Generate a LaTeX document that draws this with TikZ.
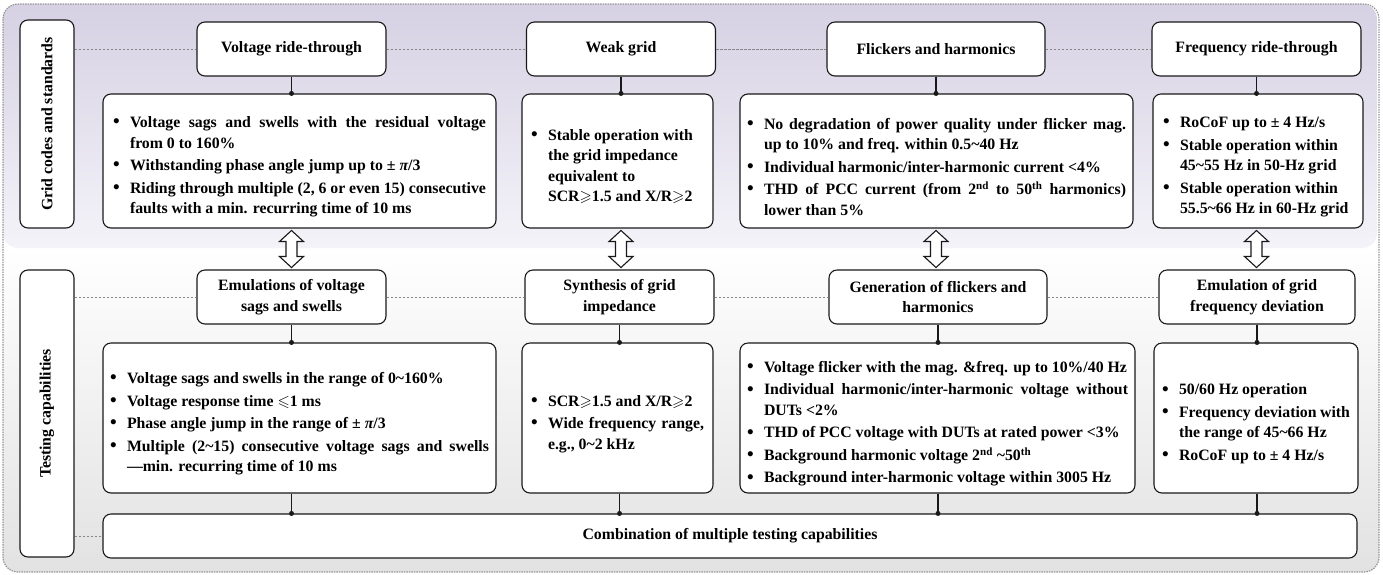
\documentclass[tikz,border=0pt]{standalone}
\usepackage{fontspec}
\setmainfont{Liberation Serif}
\usepackage{amsmath,amssymb}
\usetikzlibrary{calc}
\definecolor{lavtop}{RGB}{214,209,227}
\definecolor{lavbot}{RGB}{244,243,249}
\definecolor{grbot}{RGB}{226,226,226}
\definecolor{bord}{RGB}{25,25,25}
\definecolor{dashg}{RGB}{135,135,135}
\definecolor{outg}{RGB}{150,150,150}
\newcommand{\mybul}{\raisebox{-0.3pt}{\scalebox{1.2}{\textbullet}}}
\newcommand{\itm}[1]{\par\noindent\hangindent=17pt\hangafter=1\makebox[17pt][l]{\mybul}#1\par}
\newcommand{\mytld}{\textasciitilde}
\newcommand{\mypi}{{\itshape π}}
\newcommand{\mygeq}{\ensuremath{\boldsymbol{\geqslant}}}
\newcommand{\myleq}{\ensuremath{\boldsymbol{\leqslant}}}
\begin{document}
\begin{tikzpicture}[x=1pt,y=-1pt,
  every node/.style={font=\fontsize{15.8}{20.5}\selectfont\bfseries},
  box/.style={draw=bord, line width=1.1pt, rounded corners=8pt, fill=white, inner sep=0pt},
  hdr/.style={box, align=center, minimum height=54},
  det/.style={box, align=justify, execute at begin node={\setlength{\parskip}{2pt}}},
  lab/.style={box, rotate=90, minimum height=54},
  guide/.style={draw=dashg, line width=0.8pt, dash pattern=on 2.5pt off 1.5pt},
  link/.style={draw=bord, line width=1.1pt},
  harrow/.style={draw=bord, line width=1.1pt, fill=white, line join=miter}]
\useasboundingbox (0,0) rectangle (1383,574);
% background
\begin{scope}
\clip[rounded corners=15] (3,4) rectangle (1379,572);
\fill[white] (3,4) rectangle (1379,572);
\shade[top color=white, bottom color=grbot] (3,248) rectangle (1379,572);
\shade[top color=lavtop, bottom color=lavbot, rounded corners=15] (3,4) rectangle (1377,248);
\end{scope}
\draw[outg, line width=1.2pt, dash pattern=on 1.5pt off 1pt, rounded corners=15] (3,4) rectangle (1379,572);

% side labels
\node[lab, minimum width=208] (L1) at (47,124) {Grid codes and standards};
\node[lab, minimum width=287] (L2) at (47,413.5) {Testing capabilities};

% top headers
\node[hdr, minimum width=189] (h1) at (291.5,49) {Voltage ride-through};
\node[hdr, minimum width=189] (h2) at (621,49) {Weak grid};
\node[hdr, minimum width=218] (h3) at (936,49) {Flickers and harmonics};
\node[hdr, minimum width=209] (h4) at (1256.5,49) {Frequency ride-through};

% top details
\node[det, minimum width=393, minimum height=134, text width=373] (d1) at (299.5,161) {%
\itm{Voltage sags and swells with the residual voltage\linebreak from 0 to 160\%}
\itm{Withstanding phase angle jump up to ± \mypi/3}
\itm{Riding through multiple (2, 6 or even 15) consecutive\linebreak faults with a min. recurring time of 10 ms}};
\node[det, minimum width=191, minimum height=134, text width=173] (d2) at (617.5,161) {%
\itm{Stable operation with\newline the grid impedance\newline equivalent to\newline SCR\mygeq1.5 and X/R\mygeq2}};
\node[det, minimum width=393, minimum height=134, text width=379] (d3) at (936.5,161) {%
\itm{No degradation of power quality under flicker mag.\linebreak up to 10\% and freq. within 0.5\mytld40 Hz}
\itm{Individual harmonic/inter-harmonic current <4\%}
\itm{THD of PCC current (from 2\textsuperscript{nd} to 50\textsuperscript{th} harmonics)\linebreak lower than 5\%}};
\node[det, minimum width=210, minimum height=134, text width=190] (d4) at (1258,161) {%
\itm{RoCoF up to ± 4 Hz/s}
\itm{Stable operation within\newline 45\mytld55 Hz in 50-Hz grid}
\itm{Stable operation within\newline 55.5\mytld66 Hz in 60-Hz grid}};

% lower headers
\node[hdr, minimum width=189] (g1) at (291.5,297) {Emulations of voltage\\sags and swells};
\node[hdr, minimum width=189] (g2) at (619.5,297) {Synthesis of grid\\impedance};
\node[hdr, minimum width=218] (g3) at (938,297) {Generation of flickers and\\harmonics};
\node[hdr, minimum width=196] (g4) at (1257,297) {Emulation of grid\\frequency deviation};

% lower details
\node[det, minimum width=393, minimum height=150, text width=379] (e1) at (299.5,418) {%
\itm{Voltage sags and swells in the range of 0\mytld160\%}
\itm{Voltage response time \myleq1 ms}
\itm{Phase angle jump in the range of ± \mypi/3}
\itm{Multiple (2\mytld15) consecutive voltage sags and swells\linebreak —min. recurring time of 10 ms}};
\node[det, minimum width=191, minimum height=150, text width=173] (e2) at (617.5,418) {%
\itm{SCR\mygeq1.5 and X/R\mygeq2}
\itm{Wide frequency range,\linebreak e.g., 0\mytld2 kHz}};
\node[det, minimum width=395, minimum height=150, text width=381] (e3) at (937.5,418) {%
\itm{Voltage flicker with the mag. \&freq. up to 10\%/40 Hz}
\itm{Individual harmonic/inter-harmonic voltage without\linebreak DUTs <2\%}
\itm{THD of PCC voltage with DUTs at rated power <3\%}
\itm{Background harmonic voltage 2\textsuperscript{nd} \mytld50\textsuperscript{th}}
\itm{Background inter-harmonic voltage within 3005 Hz}};
\node[det, minimum width=204, minimum height=150, text width=188] (e4) at (1256,418) {%
\itm{50/60 Hz operation}
\itm{Frequency deviation with\newline the range of 45\mytld66 Hz}
\itm{RoCoF up to ± 4 Hz/s}};

% combination
\node[box, minimum width=1254, minimum height=44] (cb) at (730,536) {Combination of multiple testing capabilities};

% dashed guides
\draw[guide] (L1.south |- h1.west) -- (h1.west);
\draw[guide] (h1.east) -- (h2.west);
\draw[guide] (h2.east) -- (h3.west);
\draw[guide] (h3.east) -- (h4.west);
\draw[guide] (L2.south |- g1.west) -- (g1.west);
\draw[guide] (g1.east) -- (g2.west);
\draw[guide] (g2.east) -- (g3.west);
\draw[guide] (g3.east) -- (g4.west);
\draw[guide] (L2.south |- cb.west) -- (cb.west);

% connectors with dots
\foreach \a/\b in {h1/d1,h2/d2,h3/d3,h4/d4,g1/e1,g2/e2,g3/e3,g4/e4} {
  \draw[link] (\a.south) -- (\a.south |- \b.north);
  \fill[bord] (\a.south |- \b.north) circle (2.5);
}
\foreach \a/\b in {g1/e1,g2/e2,g3/e3,g4/e4} {
  \draw[link] (\a.south |- \b.south) -- (\a.south |- cb.north);
  \fill[bord] (\a.south |- cb.north) circle (2.5);
}

% hollow double arrows
\foreach \a/\b/\c in {h1/d1/g1,h2/d2/g2,h3/d3/g3,h4/d4/g4} {
  \coordinate (m) at ($(\a.south |- \b.south)!0.5!(\a.south |- \c.north)$);
  \draw[harrow, shift={(m)}] (0,-18.5) -- ++(12,11) -- ++(-6.5,0) -- ++(0,15) -- ++(6.5,0)
     -- (0,18.5) -- ++(-12,-11) -- ++(6.5,0) -- ++(0,-15) -- ++(-6.5,0) -- cycle;
}
\end{tikzpicture}
\end{document}
